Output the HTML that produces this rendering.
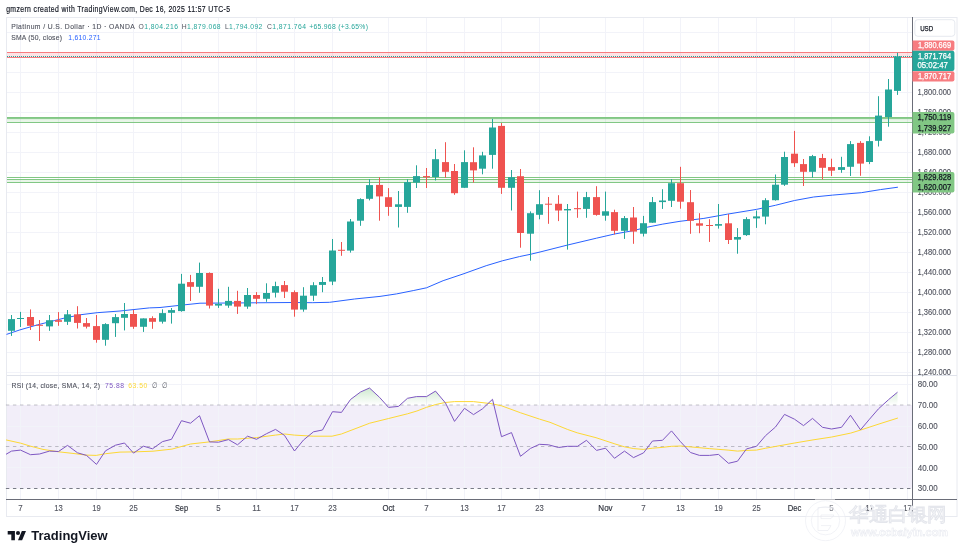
<!DOCTYPE html><html><head><meta charset="utf-8"><style>
html,body{margin:0;padding:0;background:#fff;}
body{width:964px;height:556px;overflow:hidden;position:relative;}
svg{position:absolute;left:0;top:0;}
text{font-family:"Liberation Sans", Arial, sans-serif;}
</style></head><body>
<svg width="964" height="556" viewBox="0 0 964 556">

<text transform="translate(6.15,12.0) scale(0.8,1)" x="0" y="0" font-size="8.6" fill="#131722" textLength="279.87" lengthAdjust="spacing"  stroke="#131722" stroke-width="0.18">gmzern created with TradingView.com, Dec 16, 2025 11:57 UTC-5</text>
<rect x="6.5" y="17.5" width="950.5" height="499" fill="#fff" stroke="#e8eaf0" stroke-width="1"/>
<rect x="7" y="405" width="905" height="83.5" fill="#7e57c2" fill-opacity="0.1"/>
<line x1="20.5" y1="18" x2="20.5" y2="499" stroke="#f2f3f9" stroke-width="1"/>
<line x1="58.5" y1="18" x2="58.5" y2="499" stroke="#f2f3f9" stroke-width="1"/>
<line x1="96.5" y1="18" x2="96.5" y2="499" stroke="#f2f3f9" stroke-width="1"/>
<line x1="133.5" y1="18" x2="133.5" y2="499" stroke="#f2f3f9" stroke-width="1"/>
<line x1="181.5" y1="18" x2="181.5" y2="499" stroke="#f2f3f9" stroke-width="1"/>
<line x1="218.5" y1="18" x2="218.5" y2="499" stroke="#f2f3f9" stroke-width="1"/>
<line x1="256.5" y1="18" x2="256.5" y2="499" stroke="#f2f3f9" stroke-width="1"/>
<line x1="294.5" y1="18" x2="294.5" y2="499" stroke="#f2f3f9" stroke-width="1"/>
<line x1="332.5" y1="18" x2="332.5" y2="499" stroke="#f2f3f9" stroke-width="1"/>
<line x1="388.5" y1="18" x2="388.5" y2="499" stroke="#f2f3f9" stroke-width="1"/>
<line x1="426.5" y1="18" x2="426.5" y2="499" stroke="#f2f3f9" stroke-width="1"/>
<line x1="464.5" y1="18" x2="464.5" y2="499" stroke="#f2f3f9" stroke-width="1"/>
<line x1="501.5" y1="18" x2="501.5" y2="499" stroke="#f2f3f9" stroke-width="1"/>
<line x1="539.5" y1="18" x2="539.5" y2="499" stroke="#f2f3f9" stroke-width="1"/>
<line x1="605.5" y1="18" x2="605.5" y2="499" stroke="#f2f3f9" stroke-width="1"/>
<line x1="643.5" y1="18" x2="643.5" y2="499" stroke="#f2f3f9" stroke-width="1"/>
<line x1="680.5" y1="18" x2="680.5" y2="499" stroke="#f2f3f9" stroke-width="1"/>
<line x1="718.5" y1="18" x2="718.5" y2="499" stroke="#f2f3f9" stroke-width="1"/>
<line x1="756.5" y1="18" x2="756.5" y2="499" stroke="#f2f3f9" stroke-width="1"/>
<line x1="794.5" y1="18" x2="794.5" y2="499" stroke="#f2f3f9" stroke-width="1"/>
<line x1="831.5" y1="18" x2="831.5" y2="499" stroke="#f2f3f9" stroke-width="1"/>
<line x1="869.5" y1="18" x2="869.5" y2="499" stroke="#f2f3f9" stroke-width="1"/>
<line x1="907.5" y1="18" x2="907.5" y2="499" stroke="#f2f3f9" stroke-width="1"/>
<line x1="7" y1="32.5" x2="912" y2="32.5" stroke="#f2f3f9" stroke-width="1"/>
<line x1="7" y1="52.5" x2="912" y2="52.5" stroke="#f2f3f9" stroke-width="1"/>
<line x1="7" y1="72.5" x2="912" y2="72.5" stroke="#f2f3f9" stroke-width="1"/>
<line x1="7" y1="92.5" x2="912" y2="92.5" stroke="#f2f3f9" stroke-width="1"/>
<line x1="7" y1="112.5" x2="912" y2="112.5" stroke="#f2f3f9" stroke-width="1"/>
<line x1="7" y1="132.5" x2="912" y2="132.5" stroke="#f2f3f9" stroke-width="1"/>
<line x1="7" y1="152.5" x2="912" y2="152.5" stroke="#f2f3f9" stroke-width="1"/>
<line x1="7" y1="172.5" x2="912" y2="172.5" stroke="#f2f3f9" stroke-width="1"/>
<line x1="7" y1="192.5" x2="912" y2="192.5" stroke="#f2f3f9" stroke-width="1"/>
<line x1="7" y1="212.5" x2="912" y2="212.5" stroke="#f2f3f9" stroke-width="1"/>
<line x1="7" y1="232.5" x2="912" y2="232.5" stroke="#f2f3f9" stroke-width="1"/>
<line x1="7" y1="252.5" x2="912" y2="252.5" stroke="#f2f3f9" stroke-width="1"/>
<line x1="7" y1="272.5" x2="912" y2="272.5" stroke="#f2f3f9" stroke-width="1"/>
<line x1="7" y1="292.5" x2="912" y2="292.5" stroke="#f2f3f9" stroke-width="1"/>
<line x1="7" y1="312.5" x2="912" y2="312.5" stroke="#f2f3f9" stroke-width="1"/>
<line x1="7" y1="332.5" x2="912" y2="332.5" stroke="#f2f3f9" stroke-width="1"/>
<line x1="7" y1="352.5" x2="912" y2="352.5" stroke="#f2f3f9" stroke-width="1"/>
<line x1="7" y1="372.5" x2="912" y2="372.5" stroke="#f2f3f9" stroke-width="1"/>
<line x1="7" y1="384.5" x2="912" y2="384.5" stroke="#f2f3f9" stroke-width="1"/>
<line x1="7" y1="426.5" x2="912" y2="426.5" stroke="#f2f3f9" stroke-width="1"/>
<line x1="7" y1="467.5" x2="912" y2="467.5" stroke="#f2f3f9" stroke-width="1"/>
<line x1="7" y1="375.5" x2="957" y2="375.5" stroke="#e0e3eb" stroke-width="1"/>
<rect x="7" y="53" width="905" height="4" fill="#f23645" fill-opacity="0.14"/>
<line x1="7" y1="52.5" x2="912" y2="52.5" stroke="#f77c80" stroke-width="1"/>
<line x1="7" y1="57.5" x2="912" y2="57.5" stroke="#f77c80" stroke-width="1"/>
<rect x="7" y="118.5" width="905" height="4" fill="#4caf50" fill-opacity="0.13"/>
<line x1="7" y1="117.5" x2="912" y2="117.5" stroke="#81c784" stroke-width="1"/>
<line x1="7" y1="118.6" x2="912" y2="118.6" stroke="#81c784" stroke-width="1"/>
<line x1="7" y1="122.5" x2="912" y2="122.5" stroke="#81c784" stroke-width="1"/>
<rect x="7" y="179.5" width="905" height="3" fill="#4caf50" fill-opacity="0.13"/>
<line x1="7" y1="177.5" x2="912" y2="177.5" stroke="#81c784" stroke-width="1"/>
<line x1="7" y1="179.5" x2="912" y2="179.5" stroke="#81c784" stroke-width="1"/>
<line x1="7" y1="182.5" x2="912" y2="182.5" stroke="#81c784" stroke-width="1"/>
<polyline points="6.5,334.4 19.9,329.9 37.3,324.9 54.8,320.5 64.7,318.0 80.9,314.7 97.1,312.7 120.0,311.0 149.4,307.9 160.0,307.5 179.2,305.4 200.0,303.2 230.0,303.0 254.9,302.8 292.2,302.5 312.2,302.7 329.6,302.3 354.5,299.0 380.0,296.4 396.6,293.9 413.2,290.6 426.5,287.8 443.1,280.7 463.0,274.0 486.2,265.7 502.8,260.7 519.4,256.6 530.0,254.4 540.0,252.0 567.3,245.1 596.4,238.2 614.6,234.0 632.9,230.7 646.2,227.4 662.8,224.1 680.0,221.3 703.9,218.4 727.7,214.1 756.4,209.4 775.4,205.3 794.5,200.5 813.6,197.0 832.7,195.1 861.3,192.7 880.4,189.6 897.9,187.2" fill="none" stroke="#2962ff" stroke-width="1"/>
<rect x="11" y="315.0" width="1" height="20.9" fill="#26a69a"/>
<rect x="8" y="319.1" width="7" height="11.7" fill="#26a69a"/>
<rect x="20" y="311.9" width="1" height="15.1" fill="#26a69a"/>
<rect x="17" y="318.0" width="7" height="1.0" fill="#26a69a"/>
<rect x="30" y="309.4" width="1" height="20.6" fill="#ef5350"/>
<rect x="27" y="317.0" width="7" height="8.8" fill="#ef5350"/>
<rect x="39" y="320.0" width="1" height="21.0" fill="#ef5350"/>
<rect x="36" y="324.8" width="7" height="1.0" fill="#ef5350"/>
<rect x="49" y="315.0" width="1" height="15.8" fill="#26a69a"/>
<rect x="46" y="320.2" width="7" height="6.2" fill="#26a69a"/>
<rect x="58" y="312.1" width="1" height="13.7" fill="#ef5350"/>
<rect x="55" y="320.2" width="7" height="1.6" fill="#ef5350"/>
<rect x="67" y="310.0" width="1" height="14.9" fill="#26a69a"/>
<rect x="64" y="314.3" width="7" height="7.5" fill="#26a69a"/>
<rect x="77" y="306.2" width="1" height="22.3" fill="#ef5350"/>
<rect x="74" y="314.3" width="7" height="8.6" fill="#ef5350"/>
<rect x="86" y="318.0" width="1" height="10.5" fill="#ef5350"/>
<rect x="83" y="323.1" width="7" height="3.6" fill="#ef5350"/>
<rect x="96" y="315.0" width="1" height="27.7" fill="#ef5350"/>
<rect x="93" y="326.1" width="7" height="13.8" fill="#ef5350"/>
<rect x="105" y="323.2" width="1" height="22.5" fill="#26a69a"/>
<rect x="102" y="324.1" width="7" height="15.7" fill="#26a69a"/>
<rect x="115" y="314.0" width="1" height="22.9" fill="#26a69a"/>
<rect x="112" y="317.1" width="7" height="6.1" fill="#26a69a"/>
<rect x="124" y="303.0" width="1" height="27.4" fill="#26a69a"/>
<rect x="121" y="314.0" width="7" height="3.8" fill="#26a69a"/>
<rect x="133" y="309.8" width="1" height="19.0" fill="#ef5350"/>
<rect x="130" y="314.0" width="7" height="12.8" fill="#ef5350"/>
<rect x="143" y="318.4" width="1" height="13.5" fill="#26a69a"/>
<rect x="140" y="318.4" width="7" height="8.4" fill="#26a69a"/>
<rect x="152" y="316.3" width="1" height="12.5" fill="#ef5350"/>
<rect x="149" y="318.1" width="7" height="3.7" fill="#ef5350"/>
<rect x="162" y="309.3" width="1" height="14.3" fill="#26a69a"/>
<rect x="159" y="313.1" width="7" height="8.6" fill="#26a69a"/>
<rect x="171" y="308.0" width="1" height="15.6" fill="#26a69a"/>
<rect x="168" y="310.1" width="7" height="2.7" fill="#26a69a"/>
<rect x="181" y="273.9" width="1" height="37.8" fill="#26a69a"/>
<rect x="178" y="283.7" width="7" height="27.4" fill="#26a69a"/>
<rect x="190" y="274.9" width="1" height="26.1" fill="#ef5350"/>
<rect x="187" y="282.1" width="7" height="4.7" fill="#ef5350"/>
<rect x="199" y="262.6" width="1" height="30.2" fill="#26a69a"/>
<rect x="196" y="273.0" width="7" height="13.8" fill="#26a69a"/>
<rect x="209" y="272.4" width="1" height="36.1" fill="#ef5350"/>
<rect x="206" y="273.0" width="7" height="32.6" fill="#ef5350"/>
<rect x="218" y="288.8" width="1" height="19.1" fill="#26a69a"/>
<rect x="215" y="303.9" width="7" height="1.7" fill="#26a69a"/>
<rect x="228" y="286.8" width="1" height="21.0" fill="#26a69a"/>
<rect x="225" y="300.9" width="7" height="4.7" fill="#26a69a"/>
<rect x="237" y="290.8" width="1" height="23.1" fill="#ef5350"/>
<rect x="234" y="300.9" width="7" height="5.7" fill="#ef5350"/>
<rect x="247" y="288.0" width="1" height="20.8" fill="#26a69a"/>
<rect x="244" y="295.0" width="7" height="11.6" fill="#26a69a"/>
<rect x="256" y="292.1" width="1" height="12.0" fill="#ef5350"/>
<rect x="253" y="295.0" width="7" height="3.8" fill="#ef5350"/>
<rect x="266" y="283.3" width="1" height="18.5" fill="#26a69a"/>
<rect x="263" y="293.0" width="7" height="5.8" fill="#26a69a"/>
<rect x="275" y="281.7" width="1" height="15.8" fill="#26a69a"/>
<rect x="272" y="286.1" width="7" height="6.6" fill="#26a69a"/>
<rect x="284" y="281.0" width="1" height="17.0" fill="#ef5350"/>
<rect x="281" y="285.1" width="7" height="6.6" fill="#ef5350"/>
<rect x="294" y="290.4" width="1" height="26.3" fill="#ef5350"/>
<rect x="291" y="292.1" width="7" height="17.5" fill="#ef5350"/>
<rect x="303" y="287.2" width="1" height="24.5" fill="#26a69a"/>
<rect x="300" y="295.7" width="7" height="13.9" fill="#26a69a"/>
<rect x="313" y="282.2" width="1" height="18.7" fill="#26a69a"/>
<rect x="310" y="285.2" width="7" height="10.5" fill="#26a69a"/>
<rect x="322" y="277.0" width="1" height="15.2" fill="#26a69a"/>
<rect x="319" y="282.0" width="7" height="2.9" fill="#26a69a"/>
<rect x="332" y="239.0" width="1" height="46.1" fill="#26a69a"/>
<rect x="329" y="250.5" width="7" height="31.1" fill="#26a69a"/>
<rect x="341" y="242.0" width="1" height="13.8" fill="#ef5350"/>
<rect x="338" y="249.8" width="7" height="1.0" fill="#ef5350"/>
<rect x="350" y="219.0" width="1" height="33.6" fill="#26a69a"/>
<rect x="347" y="221.5" width="7" height="29.1" fill="#26a69a"/>
<rect x="360" y="198.3" width="1" height="27.5" fill="#26a69a"/>
<rect x="357" y="199.1" width="7" height="21.6" fill="#26a69a"/>
<rect x="369" y="179.2" width="1" height="21.2" fill="#26a69a"/>
<rect x="366" y="185.1" width="7" height="13.7" fill="#26a69a"/>
<rect x="379" y="177.3" width="1" height="43.4" fill="#ef5350"/>
<rect x="376" y="184.9" width="7" height="11.5" fill="#ef5350"/>
<rect x="388" y="188.1" width="1" height="27.7" fill="#ef5350"/>
<rect x="385" y="197.2" width="7" height="9.7" fill="#ef5350"/>
<rect x="398" y="191.0" width="1" height="36.5" fill="#26a69a"/>
<rect x="395" y="204.3" width="7" height="2.6" fill="#26a69a"/>
<rect x="407" y="179.3" width="1" height="33.5" fill="#26a69a"/>
<rect x="404" y="182.1" width="7" height="24.8" fill="#26a69a"/>
<rect x="416" y="165.3" width="1" height="22.7" fill="#26a69a"/>
<rect x="413" y="176.1" width="7" height="6.5" fill="#26a69a"/>
<rect x="426" y="168.0" width="1" height="20.0" fill="#ef5350"/>
<rect x="423" y="176.1" width="7" height="1.2" fill="#ef5350"/>
<rect x="435" y="149.1" width="1" height="31.4" fill="#26a69a"/>
<rect x="432" y="159.2" width="7" height="17.8" fill="#26a69a"/>
<rect x="445" y="142.2" width="1" height="35.6" fill="#ef5350"/>
<rect x="442" y="162.1" width="7" height="9.7" fill="#ef5350"/>
<rect x="454" y="164.0" width="1" height="30.8" fill="#ef5350"/>
<rect x="451" y="171.0" width="7" height="22.2" fill="#ef5350"/>
<rect x="464" y="150.3" width="1" height="37.5" fill="#26a69a"/>
<rect x="461" y="162.1" width="7" height="25.7" fill="#26a69a"/>
<rect x="473" y="147.3" width="1" height="35.3" fill="#ef5350"/>
<rect x="470" y="162.2" width="7" height="8.2" fill="#ef5350"/>
<rect x="482" y="151.8" width="1" height="22.5" fill="#26a69a"/>
<rect x="479" y="155.4" width="7" height="13.3" fill="#26a69a"/>
<rect x="492" y="118.9" width="1" height="49.8" fill="#26a69a"/>
<rect x="489" y="127.5" width="7" height="27.4" fill="#26a69a"/>
<rect x="501" y="123.0" width="1" height="70.9" fill="#ef5350"/>
<rect x="498" y="125.9" width="7" height="61.9" fill="#ef5350"/>
<rect x="511" y="170.0" width="1" height="40.5" fill="#26a69a"/>
<rect x="508" y="177.2" width="7" height="10.6" fill="#26a69a"/>
<rect x="520" y="169.0" width="1" height="78.7" fill="#ef5350"/>
<rect x="517" y="176.2" width="7" height="56.8" fill="#ef5350"/>
<rect x="530" y="211.4" width="1" height="49.3" fill="#26a69a"/>
<rect x="527" y="213.2" width="7" height="20.5" fill="#26a69a"/>
<rect x="539" y="190.2" width="1" height="29.1" fill="#26a69a"/>
<rect x="536" y="204.2" width="7" height="10.6" fill="#26a69a"/>
<rect x="548" y="197.0" width="1" height="26.8" fill="#ef5350"/>
<rect x="545" y="203.7" width="7" height="1.0" fill="#ef5350"/>
<rect x="558" y="195.2" width="1" height="25.9" fill="#ef5350"/>
<rect x="555" y="203.8" width="7" height="6.7" fill="#ef5350"/>
<rect x="567" y="204.0" width="1" height="45.6" fill="#26a69a"/>
<rect x="564" y="209.0" width="7" height="1.4" fill="#26a69a"/>
<rect x="577" y="191.6" width="1" height="26.2" fill="#ef5350"/>
<rect x="574" y="208.1" width="7" height="1.1" fill="#ef5350"/>
<rect x="586" y="191.9" width="1" height="25.9" fill="#26a69a"/>
<rect x="583" y="197.1" width="7" height="11.8" fill="#26a69a"/>
<rect x="596" y="186.2" width="1" height="29.5" fill="#ef5350"/>
<rect x="593" y="197.1" width="7" height="17.8" fill="#ef5350"/>
<rect x="605" y="191.6" width="1" height="29.1" fill="#26a69a"/>
<rect x="602" y="211.3" width="7" height="4.4" fill="#26a69a"/>
<rect x="614" y="209.7" width="1" height="24.8" fill="#ef5350"/>
<rect x="611" y="212.1" width="7" height="18.7" fill="#ef5350"/>
<rect x="624" y="216.0" width="1" height="22.9" fill="#26a69a"/>
<rect x="621" y="218.1" width="7" height="12.7" fill="#26a69a"/>
<rect x="633" y="207.0" width="1" height="36.8" fill="#ef5350"/>
<rect x="630" y="217.5" width="7" height="14.1" fill="#ef5350"/>
<rect x="643" y="215.9" width="1" height="20.6" fill="#26a69a"/>
<rect x="640" y="223.2" width="7" height="10.5" fill="#26a69a"/>
<rect x="652" y="197.0" width="1" height="25.7" fill="#26a69a"/>
<rect x="649" y="202.1" width="7" height="20.6" fill="#26a69a"/>
<rect x="662" y="189.2" width="1" height="19.7" fill="#26a69a"/>
<rect x="659" y="200.5" width="7" height="1.6" fill="#26a69a"/>
<rect x="671" y="179.1" width="1" height="27.9" fill="#26a69a"/>
<rect x="668" y="183.2" width="7" height="17.6" fill="#26a69a"/>
<rect x="680" y="166.8" width="1" height="41.9" fill="#ef5350"/>
<rect x="677" y="183.2" width="7" height="18.5" fill="#ef5350"/>
<rect x="690" y="190.0" width="1" height="43.8" fill="#ef5350"/>
<rect x="687" y="202.2" width="7" height="18.6" fill="#ef5350"/>
<rect x="699" y="213.2" width="1" height="20.0" fill="#ef5350"/>
<rect x="696" y="223.3" width="7" height="2.4" fill="#ef5350"/>
<rect x="709" y="219.2" width="1" height="22.7" fill="#ef5350"/>
<rect x="706" y="225.0" width="7" height="1.0" fill="#ef5350"/>
<rect x="718" y="204.0" width="1" height="24.6" fill="#26a69a"/>
<rect x="715" y="224.1" width="7" height="1.6" fill="#26a69a"/>
<rect x="728" y="214.0" width="1" height="30.0" fill="#ef5350"/>
<rect x="725" y="223.3" width="7" height="16.7" fill="#ef5350"/>
<rect x="737" y="228.1" width="1" height="25.6" fill="#26a69a"/>
<rect x="734" y="237.0" width="7" height="2.6" fill="#26a69a"/>
<rect x="746" y="217.2" width="1" height="18.7" fill="#26a69a"/>
<rect x="743" y="219.1" width="7" height="16.0" fill="#26a69a"/>
<rect x="756" y="210.5" width="1" height="17.4" fill="#26a69a"/>
<rect x="753" y="216.4" width="7" height="2.0" fill="#26a69a"/>
<rect x="765" y="198.2" width="1" height="26.1" fill="#26a69a"/>
<rect x="762" y="200.2" width="7" height="16.4" fill="#26a69a"/>
<rect x="775" y="174.5" width="1" height="26.1" fill="#26a69a"/>
<rect x="772" y="184.7" width="7" height="15.5" fill="#26a69a"/>
<rect x="784" y="151.7" width="1" height="34.2" fill="#26a69a"/>
<rect x="781" y="157.0" width="7" height="27.7" fill="#26a69a"/>
<rect x="794" y="130.9" width="1" height="36.0" fill="#ef5350"/>
<rect x="791" y="153.7" width="7" height="9.5" fill="#ef5350"/>
<rect x="803" y="159.0" width="1" height="27.0" fill="#ef5350"/>
<rect x="800" y="164.1" width="7" height="7.7" fill="#ef5350"/>
<rect x="812" y="154.9" width="1" height="22.7" fill="#26a69a"/>
<rect x="809" y="156.1" width="7" height="15.7" fill="#26a69a"/>
<rect x="822" y="153.9" width="1" height="25.5" fill="#ef5350"/>
<rect x="819" y="158.0" width="7" height="9.8" fill="#ef5350"/>
<rect x="831" y="158.7" width="1" height="17.3" fill="#ef5350"/>
<rect x="828" y="167.1" width="7" height="3.6" fill="#ef5350"/>
<rect x="841" y="156.8" width="1" height="16.0" fill="#26a69a"/>
<rect x="838" y="167.1" width="7" height="2.8" fill="#26a69a"/>
<rect x="850" y="141.1" width="1" height="34.9" fill="#26a69a"/>
<rect x="847" y="144.1" width="7" height="22.7" fill="#26a69a"/>
<rect x="860" y="141.1" width="1" height="34.7" fill="#ef5350"/>
<rect x="857" y="142.9" width="7" height="20.7" fill="#ef5350"/>
<rect x="869" y="136.3" width="1" height="27.8" fill="#26a69a"/>
<rect x="866" y="141.1" width="7" height="20.9" fill="#26a69a"/>
<rect x="878" y="96.2" width="1" height="50.3" fill="#26a69a"/>
<rect x="875" y="115.6" width="7" height="25.2" fill="#26a69a"/>
<rect x="888" y="79.0" width="1" height="47.7" fill="#26a69a"/>
<rect x="885" y="89.5" width="7" height="27.5" fill="#26a69a"/>
<rect x="897" y="52.8" width="1" height="42.1" fill="#26a69a"/>
<rect x="894" y="56.3" width="7" height="34.6" fill="#26a69a"/>
<line x1="7" y1="56.5" x2="912" y2="56.5" stroke="#26a69a" stroke-width="1" stroke-dasharray="1 1"/>
<line x1="5.9" y1="405" x2="912" y2="405" stroke="#787b86" stroke-opacity="0.45" stroke-width="1" stroke-dasharray="3.4 3.64"/>
<line x1="5.9" y1="446.5" x2="912" y2="446.5" stroke="#787b86" stroke-opacity="0.45" stroke-width="1" stroke-dasharray="3.4 3.64"/>
<line x1="5.9" y1="488.5" x2="912" y2="488.5" stroke="#787b86" stroke-opacity="1" stroke-width="1" stroke-dasharray="3.4 3.64"/>
<polyline points="6.0,439.9 20.8,443.2 30.2,446.1 43.0,449.4 58.5,451.8 72.0,453.3 86.3,455.1 96.2,455.4 105.6,453.7 120.0,452.1 133.9,451.9 153.0,451.2 172.0,449.1 190.5,444.0 209.4,441.9 228.3,439.0 237.7,439.0 256.5,437.6 275.4,435.1 284.8,434.0 294.3,435.1 313.1,436.2 332.0,436.2 341.4,434.0 369.7,423.2 388.6,418.5 407.5,413.8 416.9,411.0 426.3,407.4 435.8,404.5 445.2,402.5 454.6,401.6 473.5,401.6 492.3,403.8 501.8,405.9 520.6,412.8 539.5,419.1 550.0,422.3 567.7,429.5 577.2,432.8 596.0,437.7 614.9,443.9 624.3,446.8 633.8,448.6 643.2,449.4 652.6,448.2 662.1,447.4 671.5,446.3 680.9,446.0 709.2,448.6 728.1,450.1 737.5,451.1 747.0,450.4 756.4,450.1 765.8,448.2 775.2,446.5 794.1,443.1 813.0,439.9 831.8,437.0 850.7,433.1 860.1,430.2 879.0,424.0 897.9,418.0" fill="none" stroke="#fdd835" stroke-width="1"/>
<defs><linearGradient id="ob" gradientUnits="userSpaceOnUse" x1="0" y1="405" x2="0" y2="341.9"><stop offset="0" stop-color="#4caf50" stop-opacity="0"/><stop offset="1" stop-color="#4caf50" stop-opacity="1"/></linearGradient>
<clipPath id="obc"><rect x="7" y="376" width="905" height="29"/></clipPath></defs>
<polygon points="6.0,405 6.0,454.3 11.5,451.1 20.5,450.1 30.5,454.7 39.5,454.0 49.5,451.1 58.5,451.5 67.5,445.4 77.5,452.8 86.5,455.4 96.5,464.4 105.5,450.8 115.5,445.2 124.5,443.0 133.5,453.1 143.5,446.2 152.5,448.8 162.5,441.6 171.5,439.3 181.5,420.7 190.5,423.2 199.5,415.7 209.5,441.9 218.5,442.2 228.5,439.6 237.5,444.8 247.5,436.2 256.5,439.3 266.5,433.7 275.5,429.4 284.5,435.4 294.5,451.0 303.5,440.0 313.5,431.8 322.5,430.0 332.5,411.7 341.5,412.4 350.5,399.5 360.5,392.0 369.5,388.0 379.5,397.3 388.5,407.4 398.5,406.4 407.5,398.3 416.5,396.6 426.5,396.6 435.5,391.1 445.5,403.0 454.5,421.4 464.5,408.3 473.5,414.6 482.5,408.8 492.5,399.3 501.5,436.7 511.5,432.6 520.5,456.3 530.5,448.4 539.5,444.3 548.5,444.8 558.5,447.5 567.5,446.3 577.5,446.3 586.5,440.3 596.5,450.4 605.5,448.2 614.5,458.3 624.5,451.1 633.5,457.6 643.5,452.9 652.5,441.0 662.5,440.3 671.5,430.9 680.5,441.7 690.5,452.5 699.5,455.4 709.5,455.4 718.5,454.4 728.5,463.3 737.5,461.2 746.5,448.9 756.5,446.3 765.5,435.7 775.5,427.0 784.5,414.4 794.5,419.2 803.5,425.6 812.5,418.4 822.5,427.3 831.5,429.0 841.5,427.3 850.5,415.3 860.5,429.8 869.5,419.2 878.5,408.8 888.5,399.7 897.5,392.2 897.5,405" fill="url(#ob)" clip-path="url(#obc)"/>
<polyline points="6.0,454.3 11.5,451.1 20.5,450.1 30.5,454.7 39.5,454.0 49.5,451.1 58.5,451.5 67.5,445.4 77.5,452.8 86.5,455.4 96.5,464.4 105.5,450.8 115.5,445.2 124.5,443.0 133.5,453.1 143.5,446.2 152.5,448.8 162.5,441.6 171.5,439.3 181.5,420.7 190.5,423.2 199.5,415.7 209.5,441.9 218.5,442.2 228.5,439.6 237.5,444.8 247.5,436.2 256.5,439.3 266.5,433.7 275.5,429.4 284.5,435.4 294.5,451.0 303.5,440.0 313.5,431.8 322.5,430.0 332.5,411.7 341.5,412.4 350.5,399.5 360.5,392.0 369.5,388.0 379.5,397.3 388.5,407.4 398.5,406.4 407.5,398.3 416.5,396.6 426.5,396.6 435.5,391.1 445.5,403.0 454.5,421.4 464.5,408.3 473.5,414.6 482.5,408.8 492.5,399.3 501.5,436.7 511.5,432.6 520.5,456.3 530.5,448.4 539.5,444.3 548.5,444.8 558.5,447.5 567.5,446.3 577.5,446.3 586.5,440.3 596.5,450.4 605.5,448.2 614.5,458.3 624.5,451.1 633.5,457.6 643.5,452.9 652.5,441.0 662.5,440.3 671.5,430.9 680.5,441.7 690.5,452.5 699.5,455.4 709.5,455.4 718.5,454.4 728.5,463.3 737.5,461.2 746.5,448.9 756.5,446.3 765.5,435.7 775.5,427.0 784.5,414.4 794.5,419.2 803.5,425.6 812.5,418.4 822.5,427.3 831.5,429.0 841.5,427.3 850.5,415.3 860.5,429.8 869.5,419.2 878.5,408.8 888.5,399.7 897.5,392.2" fill="none" stroke="#7e57c2" stroke-width="1"/>
<line x1="912.5" y1="17" x2="912.5" y2="517" stroke="#6a6d78" stroke-width="1"/>
<line x1="6" y1="499.5" x2="957" y2="499.5" stroke="#6a6d78" stroke-width="1"/>
<text transform="translate(11.25,28.9) scale(0.85,1)" x="0" y="0" font-size="8.0" fill="#50535e" textLength="145.29" lengthAdjust="spacing"  stroke="#50535e" stroke-width="0.12">Platinum / U.S. Dollar · 1D · OANDA</text>
<text transform="translate(138.45,28.9) scale(0.85,1)" x="0" y="0" font-size="8.0" fill="#50535e" textLength="46.47" lengthAdjust="spacing" >O<tspan fill="#26a69a">1,804.216</tspan></text>
<text transform="translate(181.75,28.9) scale(0.85,1)" x="0" y="0" font-size="8.0" fill="#50535e" textLength="45.76" lengthAdjust="spacing" >H<tspan fill="#26a69a">1,879.068</tspan></text>
<text transform="translate(224.95,28.9) scale(0.85,1)" x="0" y="0" font-size="8.0" fill="#50535e" textLength="44.00" lengthAdjust="spacing" >L<tspan fill="#26a69a">1,794.092</tspan></text>
<text transform="translate(267.05,28.9) scale(0.85,1)" x="0" y="0" font-size="8.0" fill="#50535e" textLength="45.76" lengthAdjust="spacing" >C<tspan fill="#26a69a">1,871.764</tspan></text>
<text transform="translate(309.15,28.9) scale(0.85,1)" x="0" y="0" font-size="8.0" fill="#26a69a" textLength="69.18" lengthAdjust="spacing" >+65.968 (+3.65%)</text>
<text transform="translate(11.25,40.1) scale(0.85,1)" x="0" y="0" font-size="8.0" fill="#50535e" textLength="59.65" lengthAdjust="spacing"  stroke="#50535e" stroke-width="0.12">SMA (50, close)</text>
<text transform="translate(68.35,40.1) scale(0.85,1)" x="0" y="0" font-size="8.0" fill="#2962ff" textLength="37.88" lengthAdjust="spacing" >1,610.271</text>
<text transform="translate(11.55,387.8) scale(0.85,1)" x="0" y="0" font-size="8.0" fill="#50535e" textLength="104.00" lengthAdjust="spacing"  stroke="#50535e" stroke-width="0.12">RSI (14, close, SMA, 14, 2)</text>
<text transform="translate(104.95,387.8) scale(0.85,1)" x="0" y="0" font-size="8.0" fill="#7e57c2" textLength="22.47" lengthAdjust="spacing" >75.88</text>
<text transform="translate(128.35,387.8) scale(0.85,1)" x="0" y="0" font-size="8.0" fill="#fdd835" textLength="22.24" lengthAdjust="spacing" >63.50</text>
<text x="152.25" y="387.8" font-size="8.0" fill="#50535e" textLength="5.40" lengthAdjust="spacingAndGlyphs" >∅</text>
<text x="161.65" y="387.8" font-size="8.0" fill="#50535e" textLength="5.50" lengthAdjust="spacingAndGlyphs" >∅</text>
<text x="917.45" y="94.5" font-size="8.5" fill="#50535e" textLength="33.60" lengthAdjust="spacingAndGlyphs"  stroke="#50535e" stroke-width="0.12">1,800.000</text>
<text x="917.45" y="114.5" font-size="8.5" fill="#50535e" textLength="33.60" lengthAdjust="spacingAndGlyphs"  stroke="#50535e" stroke-width="0.12">1,760.000</text>
<text x="917.45" y="134.5" font-size="8.5" fill="#50535e" textLength="33.60" lengthAdjust="spacingAndGlyphs"  stroke="#50535e" stroke-width="0.12">1,720.000</text>
<text x="917.45" y="154.5" font-size="8.5" fill="#50535e" textLength="33.60" lengthAdjust="spacingAndGlyphs"  stroke="#50535e" stroke-width="0.12">1,680.000</text>
<text x="917.45" y="174.5" font-size="8.5" fill="#50535e" textLength="33.60" lengthAdjust="spacingAndGlyphs"  stroke="#50535e" stroke-width="0.12">1,640.000</text>
<text x="917.45" y="194.5" font-size="8.5" fill="#50535e" textLength="33.60" lengthAdjust="spacingAndGlyphs"  stroke="#50535e" stroke-width="0.12">1,600.000</text>
<text x="917.45" y="214.5" font-size="8.5" fill="#50535e" textLength="33.60" lengthAdjust="spacingAndGlyphs"  stroke="#50535e" stroke-width="0.12">1,560.000</text>
<text x="917.45" y="234.5" font-size="8.5" fill="#50535e" textLength="33.60" lengthAdjust="spacingAndGlyphs"  stroke="#50535e" stroke-width="0.12">1,520.000</text>
<text x="917.45" y="254.5" font-size="8.5" fill="#50535e" textLength="33.60" lengthAdjust="spacingAndGlyphs"  stroke="#50535e" stroke-width="0.12">1,480.000</text>
<text x="917.45" y="274.5" font-size="8.5" fill="#50535e" textLength="33.60" lengthAdjust="spacingAndGlyphs"  stroke="#50535e" stroke-width="0.12">1,440.000</text>
<text x="917.45" y="294.5" font-size="8.5" fill="#50535e" textLength="33.60" lengthAdjust="spacingAndGlyphs"  stroke="#50535e" stroke-width="0.12">1,400.000</text>
<text x="917.45" y="314.5" font-size="8.5" fill="#50535e" textLength="33.60" lengthAdjust="spacingAndGlyphs"  stroke="#50535e" stroke-width="0.12">1,360.000</text>
<text x="917.45" y="334.5" font-size="8.5" fill="#50535e" textLength="33.60" lengthAdjust="spacingAndGlyphs"  stroke="#50535e" stroke-width="0.12">1,320.000</text>
<text x="917.45" y="354.5" font-size="8.5" fill="#50535e" textLength="33.60" lengthAdjust="spacingAndGlyphs"  stroke="#50535e" stroke-width="0.12">1,280.000</text>
<text x="917.45" y="374.5" font-size="8.5" fill="#50535e" textLength="33.60" lengthAdjust="spacingAndGlyphs"  stroke="#50535e" stroke-width="0.12">1,240.000</text>
<text x="917.75" y="386.9" font-size="8.5" fill="#50535e" textLength="19.90" lengthAdjust="spacingAndGlyphs"  stroke="#50535e" stroke-width="0.12">80.00</text>
<text x="917.75" y="407.8" font-size="8.5" fill="#50535e" textLength="19.90" lengthAdjust="spacingAndGlyphs"  stroke="#50535e" stroke-width="0.12">70.00</text>
<text x="917.75" y="428.7" font-size="8.5" fill="#50535e" textLength="19.90" lengthAdjust="spacingAndGlyphs"  stroke="#50535e" stroke-width="0.12">60.00</text>
<text x="917.75" y="449.6" font-size="8.5" fill="#50535e" textLength="19.90" lengthAdjust="spacingAndGlyphs"  stroke="#50535e" stroke-width="0.12">50.00</text>
<text x="917.75" y="470.5" font-size="8.5" fill="#50535e" textLength="19.90" lengthAdjust="spacingAndGlyphs"  stroke="#50535e" stroke-width="0.12">40.00</text>
<text x="917.75" y="491.4" font-size="8.5" fill="#50535e" textLength="19.90" lengthAdjust="spacingAndGlyphs"  stroke="#50535e" stroke-width="0.12">30.00</text>
<path d="M912.5 40.5 H952.4 a2 2 0 0 1 2 2 V48.8 a2 2 0 0 1 -2 2 H912.5 Z" fill="#f77c80"/>
<text x="917.95" y="48.4" font-size="8.5" fill="#fff" textLength="33.10" lengthAdjust="spacingAndGlyphs"  stroke="#fff" stroke-width="0.25">1,880.669</text>
<path d="M912.5 50.8 H952.4 a2 2 0 0 1 2 2 V69 a2 2 0 0 1 -2 2 H912.5 Z" fill="#26a69a"/>
<text x="917.95" y="59.4" font-size="8.5" fill="#fff" textLength="33.10" lengthAdjust="spacingAndGlyphs"  stroke="#fff" stroke-width="0.25">1,871.764</text>
<text x="917.45" y="68.0" font-size="8.5" fill="#fff" textLength="30.40" lengthAdjust="spacingAndGlyphs"  stroke="#fff" stroke-width="0.25">05:02:47</text>
<path d="M912.5 71.3 H952.4 a2 2 0 0 1 2 2 V79.5 a2 2 0 0 1 -2 2 H912.5 Z" fill="#f77c80"/>
<text x="917.95" y="79.4" font-size="8.5" fill="#fff" textLength="33.10" lengthAdjust="spacingAndGlyphs"  stroke="#fff" stroke-width="0.25">1,870.717</text>
<path d="M912.5 111.9 H952.4 a2 2 0 0 1 2 2 V131.6 a2 2 0 0 1 -2 2 H912.5 Z" fill="#81c784"/>
<text x="917.55" y="119.8" font-size="8.5" fill="#131722" textLength="33.70" lengthAdjust="spacingAndGlyphs"  stroke="#131722" stroke-width="0.25">1,750.119</text>
<text x="917.55" y="130.8" font-size="8.5" fill="#131722" textLength="33.70" lengthAdjust="spacingAndGlyphs"  stroke="#131722" stroke-width="0.25">1,739.927</text>
<path d="M912.5 172.0 H952.4 a2 2 0 0 1 2 2 V190.6 a2 2 0 0 1 -2 2 H912.5 Z" fill="#81c784"/>
<text x="917.55" y="180.0" font-size="8.5" fill="#131722" textLength="33.70" lengthAdjust="spacingAndGlyphs"  stroke="#131722" stroke-width="0.25">1,629.828</text>
<text x="917.55" y="189.8" font-size="8.5" fill="#131722" textLength="33.70" lengthAdjust="spacingAndGlyphs"  stroke="#131722" stroke-width="0.25">1,620.007</text>
<rect x="914.8" y="19.7" width="40" height="16.6" rx="3" fill="#fff" stroke="#e0e3eb" stroke-width="0.8"/>
<text x="920.15" y="30.7" font-size="7.8" fill="#131722" textLength="13.10" lengthAdjust="spacingAndGlyphs"  stroke="#131722" stroke-width="0.25">USD</text>
<text x="20.5" y="511.1" font-size="8.4" fill="#50535e" text-anchor="middle" textLength="4.4" lengthAdjust="spacingAndGlyphs" stroke="#50535e" stroke-width="0.12">7</text>
<text x="58.5" y="511.1" font-size="8.4" fill="#50535e" text-anchor="middle" textLength="8.5" lengthAdjust="spacingAndGlyphs" stroke="#50535e" stroke-width="0.12">13</text>
<text x="96.5" y="511.1" font-size="8.4" fill="#50535e" text-anchor="middle" textLength="8.5" lengthAdjust="spacingAndGlyphs" stroke="#50535e" stroke-width="0.12">19</text>
<text x="133.5" y="511.1" font-size="8.4" fill="#50535e" text-anchor="middle" textLength="8.5" lengthAdjust="spacingAndGlyphs" stroke="#50535e" stroke-width="0.12">25</text>
<text x="181.5" y="511.1" font-size="8.4" fill="#2a2e39" text-anchor="middle" textLength="13.0" lengthAdjust="spacingAndGlyphs" stroke="#2a2e39" stroke-width="0.15">Sep</text>
<text x="218.5" y="511.1" font-size="8.4" fill="#50535e" text-anchor="middle" textLength="4.4" lengthAdjust="spacingAndGlyphs" stroke="#50535e" stroke-width="0.12">5</text>
<text x="256.5" y="511.1" font-size="8.4" fill="#50535e" text-anchor="middle" textLength="8.5" lengthAdjust="spacingAndGlyphs" stroke="#50535e" stroke-width="0.12">11</text>
<text x="294.5" y="511.1" font-size="8.4" fill="#50535e" text-anchor="middle" textLength="8.5" lengthAdjust="spacingAndGlyphs" stroke="#50535e" stroke-width="0.12">17</text>
<text x="332.5" y="511.1" font-size="8.4" fill="#50535e" text-anchor="middle" textLength="8.5" lengthAdjust="spacingAndGlyphs" stroke="#50535e" stroke-width="0.12">23</text>
<text x="388.5" y="511.1" font-size="8.4" fill="#2a2e39" text-anchor="middle" textLength="12.0" lengthAdjust="spacingAndGlyphs" stroke="#2a2e39" stroke-width="0.15">Oct</text>
<text x="426.5" y="511.1" font-size="8.4" fill="#50535e" text-anchor="middle" textLength="4.4" lengthAdjust="spacingAndGlyphs" stroke="#50535e" stroke-width="0.12">7</text>
<text x="464.5" y="511.1" font-size="8.4" fill="#50535e" text-anchor="middle" textLength="8.5" lengthAdjust="spacingAndGlyphs" stroke="#50535e" stroke-width="0.12">13</text>
<text x="501.5" y="511.1" font-size="8.4" fill="#50535e" text-anchor="middle" textLength="8.5" lengthAdjust="spacingAndGlyphs" stroke="#50535e" stroke-width="0.12">17</text>
<text x="539.5" y="511.1" font-size="8.4" fill="#50535e" text-anchor="middle" textLength="8.5" lengthAdjust="spacingAndGlyphs" stroke="#50535e" stroke-width="0.12">23</text>
<text x="605.5" y="511.1" font-size="8.4" fill="#2a2e39" text-anchor="middle" textLength="14.3" lengthAdjust="spacingAndGlyphs" stroke="#2a2e39" stroke-width="0.15">Nov</text>
<text x="643.5" y="511.1" font-size="8.4" fill="#50535e" text-anchor="middle" textLength="4.4" lengthAdjust="spacingAndGlyphs" stroke="#50535e" stroke-width="0.12">7</text>
<text x="680.5" y="511.1" font-size="8.4" fill="#50535e" text-anchor="middle" textLength="8.5" lengthAdjust="spacingAndGlyphs" stroke="#50535e" stroke-width="0.12">13</text>
<text x="718.5" y="511.1" font-size="8.4" fill="#50535e" text-anchor="middle" textLength="8.5" lengthAdjust="spacingAndGlyphs" stroke="#50535e" stroke-width="0.12">19</text>
<text x="756.5" y="511.1" font-size="8.4" fill="#50535e" text-anchor="middle" textLength="8.5" lengthAdjust="spacingAndGlyphs" stroke="#50535e" stroke-width="0.12">25</text>
<text x="794.5" y="511.1" font-size="8.4" fill="#2a2e39" text-anchor="middle" textLength="13.6" lengthAdjust="spacingAndGlyphs" stroke="#2a2e39" stroke-width="0.15">Dec</text>
<text x="831.5" y="511.1" font-size="8.4" fill="#50535e" text-anchor="middle" textLength="4.4" lengthAdjust="spacingAndGlyphs" stroke="#50535e" stroke-width="0.12">5</text>
<text x="869.5" y="511.1" font-size="8.4" fill="#50535e" text-anchor="middle" textLength="8.5" lengthAdjust="spacingAndGlyphs" stroke="#50535e" stroke-width="0.12">11</text>
<text x="907.5" y="511.1" font-size="8.4" fill="#50535e" text-anchor="middle" textLength="8.5" lengthAdjust="spacingAndGlyphs" stroke="#50535e" stroke-width="0.12">17</text>
<rect x="815" y="498.6" width="20" height="1.8" fill="#fff" fill-opacity="0.55"/>
<circle cx="825.5" cy="520.7" r="20" fill="#fff" fill-opacity="0.3" stroke="#e9ebf1" stroke-width="0.6"/>
<circle cx="825.5" cy="520.7" r="14.2" fill="none" stroke="#e9ebf1" stroke-width="0.6"/>
<path d="M818 507.5 H834 M818 507.5 V530.5 H828 M821 515 H834 L831 518.6 H821 Z M821 525.6 H831 L828 530.5" fill="none" stroke="#e6e8ef" stroke-width="0.6"/>
<text x="849" y="520.5" font-size="18.5" font-family="'Noto Sans CJK SC', 'WenQuanYi Zen Hei', sans-serif" font-weight="900" fill="#fff" fill-opacity="0.8" stroke="#e4e6ec" stroke-width="0.3" textLength="98" lengthAdjust="spacingAndGlyphs">华通白银网</text>
<text x="851" y="535.5" font-size="11" font-weight="bold" fill="#fff" stroke="#e6e8ef" stroke-width="0.5" textLength="97" lengthAdjust="spacingAndGlyphs">www.ccbaiyin.com</text>
<g transform="translate(7.7,528.9) scale(0.515)" fill="#131722"><path d="M14 22H7V11H0V4h14v18zM28 22h-8l7.5-18h8L28 22z"/><circle cx="20" cy="8" r="4"/></g>
<text x="31.35" y="539.9" font-size="12" fill="#131722" textLength="76.30" lengthAdjust="spacingAndGlyphs" font-weight="bold">TradingView</text>
</svg></body></html>
